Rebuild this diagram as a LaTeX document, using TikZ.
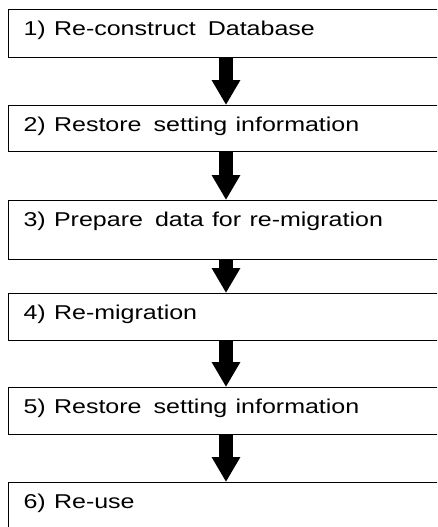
\documentclass[tikz,border=0pt]{standalone}
\usepackage{fontspec}
\setmainfont{Liberation Sans}
\usepackage{graphicx}
\usetikzlibrary{arrows.meta}

\newcommand{\steptext}[1]{\scalebox{1.25}[1]{#1}}

\tikzset{
  stepbox/.style={draw, line width=1pt, anchor=north west, inner xsep=15pt, inner ysep=0pt,
    text width=420pt, align=left, text height=26pt, font=\fontsize{20}{22}\selectfont},
  flow/.style={line width=14pt, -{Triangle[width=27pt,length=25pt]}}
}

\begin{document}
\begin{tikzpicture}[x=1pt,y=-1pt]
        \useasboundingbox (0,0) rectangle (437,527);
        \clip (0,0) rectangle (437,527);
        \coordinate (ax) at (226,0);
        \node[stepbox, text depth=22pt] (r1) at (8,9) {\steptext{1) Re-construct\hspace{3pt} Database}};
        \node[stepbox, text depth=20pt] (r2) at (8,105) {\steptext{2) Restore\hspace{3pt} setting information}};
        \node[stepbox, text depth=33pt] (r3) at (8,200) {\steptext{3) Prepare\hspace{3pt} data for re-migration}};
        \node[stepbox, text depth=21pt] (r4) at (8,293) {\steptext{4) Re-migration}};
        \node[stepbox, text depth=21pt] (r5) at (8,387) {\steptext{5) Restore\hspace{3pt} setting information}};
        \node[stepbox, text depth=40pt] (r6) at (8,482) {\steptext{6) Re-use}};
        \draw[flow] (r1.south -| ax) -- (r2.north -| ax);
        \draw[flow] (r2.south -| ax) -- (r3.north -| ax);
        \draw[flow] (r3.south -| ax) -- (r4.north -| ax);
        \draw[flow] (r4.south -| ax) -- (r5.north -| ax);
        \draw[flow] (r5.south -| ax) -- (r6.north -| ax);
    \end{tikzpicture}
\end{document}
